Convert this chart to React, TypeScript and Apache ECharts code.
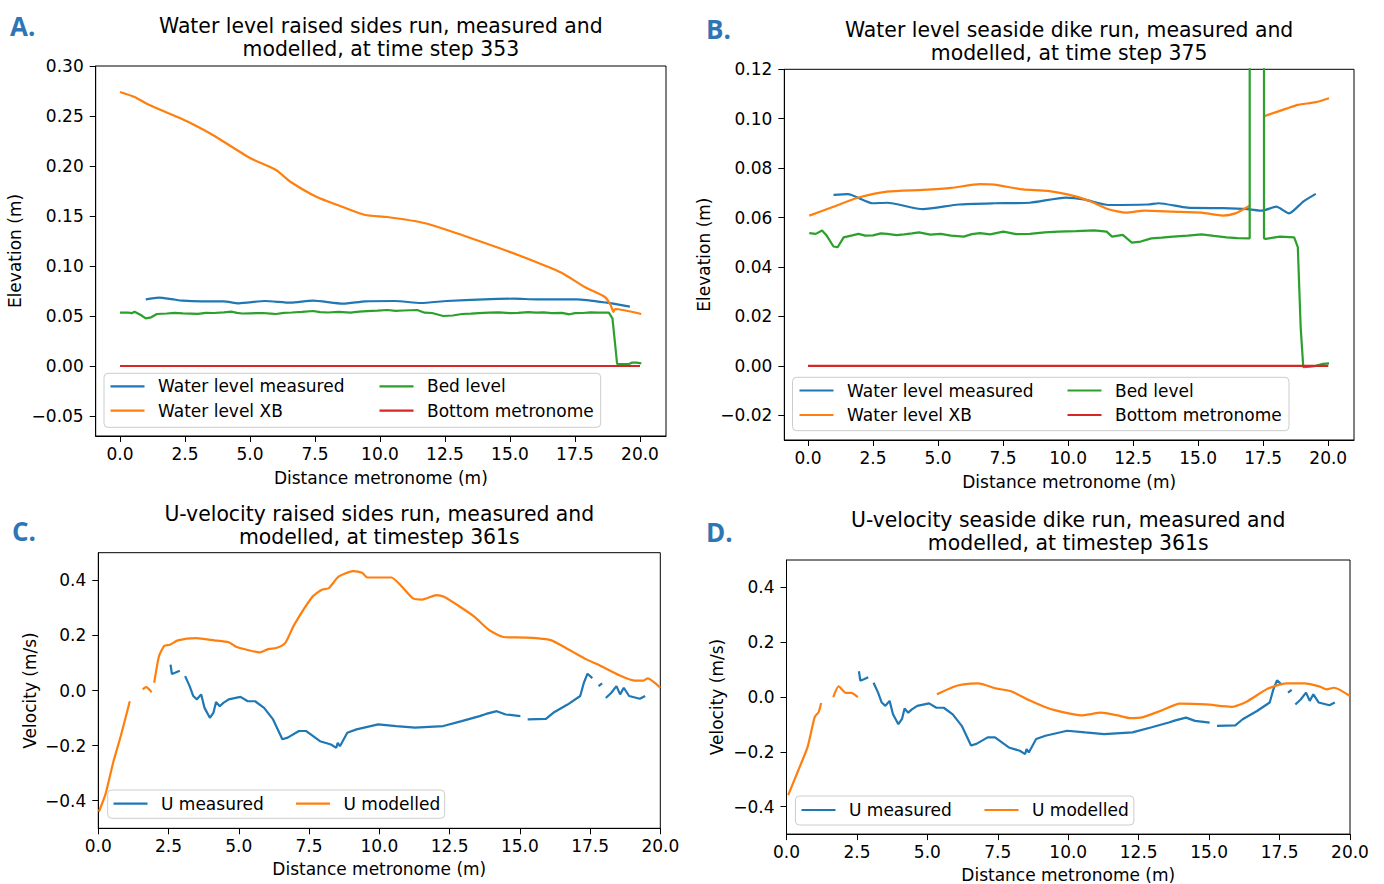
import React, { useEffect, useRef } from "react";
import * as echarts from "echarts";

type Pt = [number, number] | null;

// ---------------- Tick values ----------------
const xTicks = [0, 2.5, 5, 7.5, 10, 12.5, 15, 17.5, 20];
const aYTicks = [-0.05, 0, 0.05, 0.1, 0.15, 0.2, 0.25, 0.3];
const bYTicks = [-0.02, 0, 0.02, 0.04, 0.06, 0.08, 0.1, 0.12];
const uYTicks = [-0.4, -0.2, 0, 0.2, 0.4];

// ---------------- Panel A: raised sides run, time step 353 ----------------
const aWaterMeasured: Pt[] = [
  [0.99, 0.0667], [1.49, 0.0683], [2.0, 0.0668], [2.42, 0.0653], [3.13, 0.0647], [3.99, 0.0647],
  [4.57, 0.0627], [5.57, 0.065], [6.57, 0.0633], [7.42, 0.0653], [8.57, 0.0623], [9.43, 0.0647],
  [10.57, 0.065], [11.57, 0.063], [12.57, 0.065], [14.0, 0.0667], [15.15, 0.0673], [16.0, 0.0667],
  [17.58, 0.0667], [18.72, 0.0633], [19.61, 0.0593],
];
const aWaterXB: Pt[] = [
  [0, 0.274], [0.56, 0.269], [1.13, 0.261], [2.21, 0.249], [2.71, 0.243], [3.57, 0.231],
  [5.0, 0.208], [6.0, 0.196], [6.57, 0.184], [7.57, 0.169], [8.57, 0.159], [9.43, 0.151],
  [10.28, 0.149], [11.7, 0.143], [13.15, 0.131], [14.58, 0.118], [16.0, 0.104], [17.0, 0.093],
  [17.87, 0.079], [18.65, 0.069], [18.87, 0.061], [18.98, 0.054], [19.04, 0.057], [20.05, 0.052],
];
const aBedLevel: Pt[] = [
  [0, 0.0533], [0.3, 0.0535], [0.45, 0.0528], [0.56, 0.0543], [0.8, 0.051], [0.99, 0.0477], [1.2, 0.0487],
  [1.42, 0.052], [1.8, 0.0525], [2.1, 0.0532], [2.42, 0.0527], [3.0, 0.0522], [3.3, 0.0531], [3.6, 0.053],
  [4.0, 0.0537], [4.28, 0.0543], [4.5, 0.0531], [4.7, 0.0525], [5.0, 0.0527], [5.5, 0.053], [5.8, 0.0524],
  [6.0, 0.052], [6.3, 0.0531], [6.6, 0.0535], [7.0, 0.0542], [7.42, 0.055], [7.7, 0.0538], [8.0, 0.0535],
  [8.4, 0.0541], [8.86, 0.0533], [9.2, 0.0544], [9.5, 0.0548], [9.9, 0.0553], [10.28, 0.056], [10.6, 0.0551],
  [10.9, 0.0555], [11.43, 0.056], [11.72, 0.0533], [12.0, 0.053], [12.43, 0.05], [12.8, 0.0505],
  [13.15, 0.052], [13.5, 0.0524], [13.8, 0.0528], [14.2, 0.0533], [14.58, 0.0537], [15.0, 0.0529],
  [15.3, 0.0532], [15.7, 0.0538], [16.0, 0.0533], [16.3, 0.0536], [16.6, 0.0528], [17.0, 0.0531],
  [17.29, 0.0517], [17.5, 0.0529], [17.8, 0.053], [18.1, 0.0536], [18.4, 0.0533], [18.8, 0.0533],
  [18.94, 0.0477], [19.05, 0.02], [19.12, 0.002], [19.58, 0.002], [19.7, 0.0035], [19.87, 0.0033],
  [20.05, 0.0027],
];
const aBottom: Pt[] = [[0, 0], [20, 0]];

// ---------------- Panel B: seaside dike run, time step 375 ----------------
const bWaterMeasured: Pt[] = [
  [0.98, 0.0692], [1.53, 0.0695], [2.49, 0.0658], [3.04, 0.066], [4.42, 0.0634], [5.79, 0.0653],
  [7.16, 0.0658], [8.53, 0.066], [9.91, 0.0681], [10.6, 0.0674], [11.55, 0.0651], [13.07, 0.0653],
  [13.48, 0.0658], [14.58, 0.064], [15.95, 0.0638], [16.91, 0.0634], [17.46, 0.0628], [18.0, 0.0644],
  [18.49, 0.0617], [19.04, 0.0665], [19.52, 0.0696],
];
const bWaterXB: Pt[] = [
  [0.05, 0.0608], [0.98, 0.0644], [1.94, 0.0681], [3.04, 0.0705], [4.42, 0.0712], [5.51, 0.072],
  [6.61, 0.0735], [7.16, 0.0733], [8.26, 0.0714], [9.22, 0.0708], [10.32, 0.0685], [10.87, 0.0665],
  [11.55, 0.0634], [12.24, 0.062], [12.93, 0.0628], [14.03, 0.0624], [15.13, 0.062], [15.95, 0.0608],
  [16.43, 0.0617], [16.98, 0.0648],
  null,
  [17.53, 0.101], [18.42, 0.1042], [18.83, 0.1056], [19.52, 0.1067], [20.03, 0.1083],
];
const bBedLevel: Pt[] = [
  [0.05, 0.0537], [0.3, 0.0534], [0.54, 0.0548], [0.7, 0.053], [0.98, 0.0483], [1.14, 0.048], [1.37, 0.052],
  [1.7, 0.0528], [1.94, 0.0534], [2.2, 0.0527], [2.5, 0.0528], [2.8, 0.0536], [3.04, 0.0534], [3.4, 0.0529],
  [3.7, 0.0532], [4.0, 0.0536], [4.27, 0.054], [4.7, 0.0531], [5.1, 0.0534], [5.5, 0.0527], [5.99, 0.0523],
  [6.3, 0.0533], [6.61, 0.0537], [7.0, 0.0532], [7.51, 0.0543], [8.0, 0.0533], [8.53, 0.0534], [9.1, 0.054],
  [9.63, 0.0543], [10.3, 0.0545], [11.0, 0.0548], [11.48, 0.0543], [11.69, 0.0523], [12.1, 0.053],
  [12.45, 0.0499], [12.79, 0.0503], [13.2, 0.0516], [13.6, 0.0519], [14.03, 0.0523], [14.6, 0.0527],
  [15.13, 0.0532], [15.6, 0.0526], [16.09, 0.052], [16.5, 0.0517],
  [16.98, 0.0516], [16.98, 0.2], [17.53, 0.2], [17.53, 0.0516], [17.6, 0.0514], [18.15, 0.0523],
  [18.69, 0.052], [18.83, 0.048], [18.94, 0.0156], [19.04, -0.0005], [19.3, -0.0003], [19.52, 0.0],
  [19.8, 0.0008], [20.03, 0.001],
];
const bBottom: Pt[] = [[0, 0], [20, 0]];

// ---------------- Panels C/D: U-velocity, timestep 361 s ----------------
const uMeasured: Pt[] = [
  [2.57, 0.094], [2.62, 0.06], [2.75, 0.065], [2.9, 0.072],
  null,
  [3.09, 0.052], [3.25, 0.016], [3.38, -0.02], [3.51, -0.032], [3.66, -0.014], [3.78, -0.063],
  [3.97, -0.099], [4.1, -0.08], [4.19, -0.042], [4.32, -0.057], [4.45, -0.045], [4.64, -0.032],
  [5.06, -0.023], [5.32, -0.039], [5.58, -0.039], [5.9, -0.063], [6.22, -0.105], [6.55, -0.177],
  [6.74, -0.171], [7.14, -0.147], [7.4, -0.147], [7.89, -0.184], [8.28, -0.196], [8.47, -0.208],
  [8.52, -0.19], [8.6, -0.202], [8.86, -0.153], [9.19, -0.141], [9.96, -0.123], [10.6, -0.129],
  [11.27, -0.135], [12.28, -0.129], [12.93, -0.111], [13.57, -0.093], [13.8, -0.085], [14.18, -0.075],
  [14.5, -0.087], [15.02, -0.093],
  null,
  [15.28, -0.105], [15.93, -0.103], [16.19, -0.081], [16.7, -0.051], [17.15, -0.02], [17.28, 0.028],
  [17.41, 0.061], [17.58, 0.045],
  null,
  [17.8, 0.016], [17.93, 0.026],
  null,
  [18.06, -0.027], [18.25, -0.009], [18.44, 0.016], [18.57, -0.014], [18.7, 0.01], [18.89, -0.02],
  [19.27, -0.03], [19.46, -0.02],
];
const cModelled: Pt[] = [
  [0.02, -0.44], [0.26, -0.375], [0.53, -0.261], [0.8, -0.165], [1.03, -0.075], [1.12, -0.039],
  null,
  [1.58, 0.004], [1.7, 0.012], [1.9, -0.006],
  null,
  [1.99, 0.028], [2.16, 0.124], [2.35, 0.162], [2.55, 0.166], [2.83, 0.182], [3.48, 0.19],
  [4.13, 0.182], [4.64, 0.175], [4.9, 0.159], [5.29, 0.148], [5.74, 0.138], [6.07, 0.151],
  [6.33, 0.154], [6.65, 0.172], [6.97, 0.238], [7.62, 0.34], [7.94, 0.365], [8.2, 0.371],
  [8.55, 0.413], [9.07, 0.433], [9.39, 0.427], [9.58, 0.41], [10.43, 0.41], [10.75, 0.383],
  [11.2, 0.334], [11.53, 0.33], [12.04, 0.346], [12.3, 0.34], [12.87, 0.304], [13.38, 0.268],
  [13.9, 0.22], [14.42, 0.194], [15.19, 0.192], [16.1, 0.183], [16.75, 0.148], [17.39, 0.112],
  [17.78, 0.094], [18.56, 0.054], [19.07, 0.036], [19.4, 0.036], [19.55, 0.044], [20.0, 0.01],
];
const dModelled: Pt[] = [
  [0.06, -0.358], [0.42, -0.267], [0.75, -0.182], [1.0, -0.073], [1.14, -0.055], [1.23, -0.022],
  null,
  [1.66, 0.0], [1.85, 0.039], [2.11, 0.015], [2.3, 0.015], [2.53, 0.0],
  null,
  [5.34, 0.01], [5.89, 0.036], [6.28, 0.046], [6.8, 0.05], [7.45, 0.031], [7.97, 0.021],
  [8.62, -0.012], [9.27, -0.04], [9.93, -0.058], [10.45, -0.067], [11.17, -0.057], [11.75, -0.067],
  [12.21, -0.077], [12.66, -0.073], [13.31, -0.049], [13.96, -0.024], [14.88, -0.027], [15.79, -0.036],
  [16.31, -0.018], [17.09, 0.031], [17.74, 0.05], [18.39, 0.05], [18.93, 0.038], [19.17, 0.028],
  [19.43, 0.034], [20.0, 0.004],
];

// ---------------- Texts ----------------
const panelLetters = ["A.", "B.", "C.", "D."];
const titles = [
  ["Water level raised sides run, measured and", "modelled, at time step 353"],
  ["Water level seaside dike run, measured and", "modelled, at time step 375"],
  ["U-velocity raised sides run, measured and", "modelled, at timestep 361s"],
  ["U-velocity seaside dike run, measured and", "modelled, at timestep 361s"],
];
const xName = "Distance metronome (m)";
const yNames = ["Elevation (m)", "Elevation (m)", "Velocity (m/s)", "Velocity (m/s)"];
const levelLabels = ["Water level measured", "Water level XB", "Bed level", "Bottom metronome"];
const velLabels = ["U measured", "U modelled"];

const BLUE = "#1f77b4";
const ORANGE = "#ff7f0e";
const GREEN = "#2ca02c";
const RED = "#d62728";
const FONT = "DejaVu Sans";
const FS = 17;
const LW = 2.2;

const toData = (pts: Pt[]) => pts.map((p) => (p === null ? ["-", "-"] : p));

const fmt = (d: number) => (v: number) => {
  const s = Math.abs(v).toFixed(d);
  return v < -1e-9 ? "\u2212" + s : s;
};

// layout of the four axes boxes (pixels)
const grids = [
  { left: 95.7, top: 66, width: 570.3, height: 370 },
  { left: 784.3, top: 69.3, width: 569.7, height: 370.7 },
  { left: 98.3, top: 552.7, width: 562, height: 275.6 },
  { left: 786.5, top: 560, width: 563.5, height: 274.1 },
];
const xRanges = [[-0.934, 21.0], [-0.911, 20.99], [0, 20], [0, 20]];
const yRanges = [[-0.07, 0.3], [-0.03, 0.12], [-0.5, 0.5], [-0.5, 0.5]];
const yTickSets = [aYTicks, bYTicks, uYTicks, uYTicks];
const yDecimals = [2, 2, 1, 1];

function makeXAxis(i: number) {
  return {
    type: "value",
    gridIndex: i,
    min: xRanges[i][0],
    max: xRanges[i][1],
    axisLine: { show: true, onZero: false, lineStyle: { color: "#000", width: 1 } },
    axisTick: { show: true, inside: false, length: 6, customValues: xTicks, lineStyle: { color: "#000", width: 1 } },
    axisLabel: { show: true, customValues: xTicks, formatter: fmt(1), color: "#000", fontFamily: FONT, fontSize: FS, margin: 9 },
    splitLine: { show: false },
  };
}
function makeYAxis(i: number) {
  return {
    type: "value",
    gridIndex: i,
    min: yRanges[i][0],
    max: yRanges[i][1],
    axisLine: { show: true, onZero: false, lineStyle: { color: "#000", width: 1 } },
    axisTick: { show: true, inside: false, length: 6, customValues: yTickSets[i], lineStyle: { color: "#000", width: 1 } },
    axisLabel: { show: true, customValues: yTickSets[i], formatter: fmt(yDecimals[i]), color: "#000", fontFamily: FONT, fontSize: FS, margin: 12 },
    splitLine: { show: false },
  };
}
function line(i: number, data: Pt[], color: string, name: string, smooth = 0) {
  return {
    type: "line",
    name,
    xAxisIndex: i,
    yAxisIndex: i,
    data: toData(data),
    showSymbol: false,
    symbol: "none",
    connectNulls: false,
    smooth,
    clip: true,
    silent: true,
    lineStyle: { color, width: LW },
    itemStyle: { color },
  };
}

function txt(x: number, y: number, s: string, extra: any = {}) {
  return {
    type: "text",
    x,
    y,
    z: 100,
    silent: true,
    ...extra,
    style: {
      text: s,
      fill: "#000",
      fontFamily: FONT,
      fontSize: FS,
      align: "center",
      verticalAlign: "middle",
      ...(extra.style || {}),
    },
  };
}

function legend(box: number[], items: { label: string; color: string; hx: number; row: number }[]) {
  const els: any[] = [
    {
      type: "rect",
      z: 100,
      silent: true,
      shape: { x: box[0], y: box[1], width: box[2], height: box[3], r: 4 },
      style: { fill: "rgba(255,255,255,0.8)", stroke: "#cccccc", lineWidth: 1 },
    },
  ];
  items.forEach((it) => {
    els.push({
      type: "line",
      z: 101,
      silent: true,
      shape: { x1: it.hx, y1: it.row, x2: it.hx + 34, y2: it.row },
      style: { stroke: it.color, lineWidth: LW },
    });
    els.push(txt(it.hx + 47.5, it.row, it.label, { z: 101, style: { align: "left" } }));
  });
  return els;
}

export default function App() {
  const ref = useRef<HTMLDivElement>(null);
  useEffect(() => {
    if (!ref.current) return;
    const chart = echarts.init(ref.current, undefined, { renderer: "svg" });

    const graphics: any[] = [];
    const letterPos = [[10, 26], [706, 29], [12, 531], [706, 532]];
    panelLetters.forEach((l, i) =>
      graphics.push(
        txt(letterPos[i][0], letterPos[i][1], l, {
          style: { align: "left", fill: "#2e75b6", fontFamily: "Open Sans", fontWeight: "bold", fontSize: 26 },
        })
      )
    );
    const titleY = [[26, 49], [30, 53], [514, 537], [520, 543]];
    titles.forEach((t, i) => {
      const cx = grids[i].left + grids[i].width / 2;
      graphics.push(txt(cx, titleY[i][0], t[0], { style: { fontSize: 20.4 } }));
      graphics.push(txt(cx, titleY[i][1], t[1], { style: { fontSize: 20.4 } }));
    });
    const xNameY = [478, 482, 869, 875];
    const yNameX = [15, 704, 30, 717];
    grids.forEach((g, i) => {
      graphics.push(txt(g.left + g.width / 2, xNameY[i], xName));
      graphics.push(txt(yNameX[i], g.top + g.height / 2, yNames[i], { rotation: Math.PI / 2 }));
    });
    graphics.push(
      ...legend([104, 373.3, 496.7, 54], [
        { label: levelLabels[0], color: BLUE, hx: 110.5, row: 386.3 },
        { label: levelLabels[1], color: ORANGE, hx: 110.5, row: 410.7 },
        { label: levelLabels[2], color: GREEN, hx: 379.5, row: 386.3 },
        { label: levelLabels[3], color: RED, hx: 379.5, row: 410.7 },
      ])
    );
    graphics.push(
      ...legend([792.5, 377.3, 496.5, 53.4], [
        { label: levelLabels[0], color: BLUE, hx: 799.5, row: 390.5 },
        { label: levelLabels[1], color: ORANGE, hx: 799.5, row: 415 },
        { label: levelLabels[2], color: GREEN, hx: 1067.5, row: 390.5 },
        { label: levelLabels[3], color: RED, hx: 1067.5, row: 415 },
      ])
    );
    graphics.push(
      ...legend([107.7, 790, 337, 28.3], [
        { label: velLabels[0], color: BLUE, hx: 113.5, row: 803.6 },
        { label: velLabels[1], color: ORANGE, hx: 296, row: 803.6 },
      ])
    );
    graphics.push(
      ...legend([795.4, 796, 338.5, 29], [
        { label: velLabels[0], color: BLUE, hx: 801.5, row: 810 },
        { label: velLabels[1], color: ORANGE, hx: 984.5, row: 810 },
      ])
    );

    chart.setOption({
      animation: false,
      backgroundColor: "#ffffff",
      textStyle: { fontFamily: FONT },
      grid: grids.map((g) => ({ ...g, show: true, borderColor: "#000", borderWidth: 1, backgroundColor: "transparent", containLabel: false })),
      xAxis: [0, 1, 2, 3].map(makeXAxis),
      yAxis: [0, 1, 2, 3].map(makeYAxis),
      series: [
        line(0, aWaterMeasured, BLUE, levelLabels[0], 0.2),
        line(0, aWaterXB, ORANGE, levelLabels[1], 0.2),
        line(0, aBedLevel, GREEN, levelLabels[2]),
        line(0, aBottom, RED, levelLabels[3]),
        line(1, bWaterMeasured, BLUE, levelLabels[0], 0.2),
        line(1, bWaterXB, ORANGE, levelLabels[1], 0.2),
        line(1, bBedLevel, GREEN, levelLabels[2]),
        line(1, bBottom, RED, levelLabels[3]),
        line(2, uMeasured, BLUE, velLabels[0]),
        line(2, cModelled, ORANGE, velLabels[1], 0.2),
        line(3, uMeasured, BLUE, velLabels[0]),
        line(3, dModelled, ORANGE, velLabels[1], 0.2),
      ],
      graphic: { elements: graphics },
    });
    return () => chart.dispose();
  }, []);
  return <div ref={ref} style={{ position: "fixed", left: 0, top: 0, width: 1384, height: 884, background: "#fff" }} />;
}
